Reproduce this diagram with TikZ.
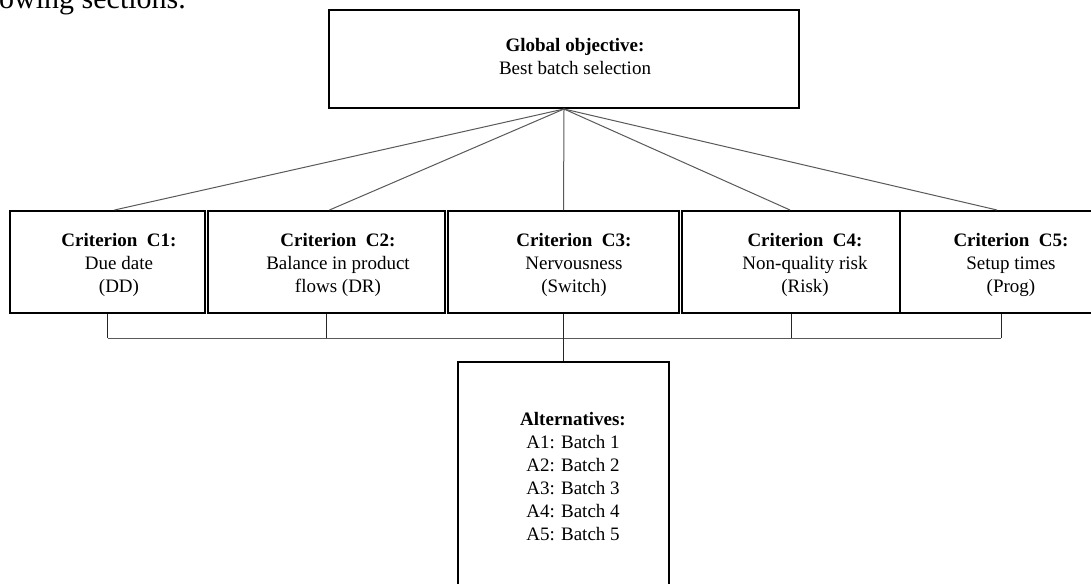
\documentclass[tikz,border=0pt]{standalone}
\usepackage{fontspec}
\setmainfont{Liberation Serif}
\usetikzlibrary{calc}
\tikzset{
  boxnode/.style={draw=black, line width=2pt, rectangle, inner sep=0pt},
  txt/.style={font=\fontsize{19}{23}\selectfont, align=center, inner sep=0pt},
  conn/.style={draw=black!65, line width=1pt},
  vconn/.style={draw=black!85, line width=1pt}
}
\begin{document}
\begin{tikzpicture}[x=1pt,y=-1pt]
\path[use as bounding box] (0,0) rectangle (1091,583);
\clip (0,0) rectangle (1091,583);
\fill[white] (0,0) rectangle (1091,583);
% page text fragment
\node[anchor=base west, inner sep=0pt, font=\fontsize{30}{34}\selectfont] (frag) at (-1,9) {owing sections.};
% top box
\node[boxnode, minimum width=470pt, minimum height=98pt] (top) at (564,59) {};
\node[txt] (topl) at (575,57) {\textbf{Global objective:}\\Best batch selection};
% criteria boxes
\node[boxnode, minimum width=195pt, minimum height=102pt] (c1) at (107.5,262) {};
\node[boxnode, minimum width=237pt, minimum height=102pt] (c2) at (326.5,262) {};
\node[boxnode, minimum width=231pt, minimum height=102pt] (c3) at (563.5,262) {};
\node[boxnode, minimum width=218pt, minimum height=102pt] (c4) at (791,262) {};
\node[boxnode, minimum width=202pt, minimum height=102pt] (c5) at (1001,262) {};
\node[txt] (c1l) at (119,265) {\textbf{Criterion\ \ C1:}\\Due date\\(DD)};
\node[txt] (c2l) at (338,265) {\textbf{Criterion\ \ C2:}\\Balance in product\\flows (DR)};
\node[txt] (c3l) at (574,265) {\textbf{Criterion\ \ C3:}\\Nervousness\\(Switch)};
\node[txt] (c4l) at (805,265) {\textbf{Criterion\ \ C4:}\\Non-quality risk\\(Risk)};
\node[txt] (c5l) at (1011,265) {\textbf{Criterion\ \ C5:}\\Setup times\\(Prog)};
% alternatives box
\node[boxnode, minimum width=211pt, minimum height=240pt] (alt) at (563.5,482) {};
\node[txt] (altl) at (573,477) {\textbf{Alternatives:}\\A1: Batch 1\\A2: Batch 2\\A3: Batch 3\\A4: Batch 4\\A5: Batch 5};
% top connectors
\draw[conn] (top.south) -- ([xshift=7pt]c1.north);
\draw[conn] (top.south) -- ([xshift=3pt]c2.north);
\draw[conn] (top.south) -- (c3.north);
\draw[conn] (top.south) -- ([xshift=-1pt]c4.north);
\draw[conn] (top.south) -- ([xshift=-4pt]c5.north);
% bottom bus
\coordinate (bus) at (0,338);
\draw[conn] (c1.south |- bus) -- (c5.south |- bus);
\draw[vconn] (c1.south) -- (c1.south |- bus);
\draw[vconn] (c2.south) -- (c2.south |- bus);
\draw[vconn] (c3.south) -- (c3.south |- bus);
\draw[vconn] (c4.south) -- (c4.south |- bus);
\draw[vconn] (c5.south) -- (c5.south |- bus);
\draw[vconn] (c3.south |- bus) -- (alt.north);
\end{tikzpicture}
\end{document}
